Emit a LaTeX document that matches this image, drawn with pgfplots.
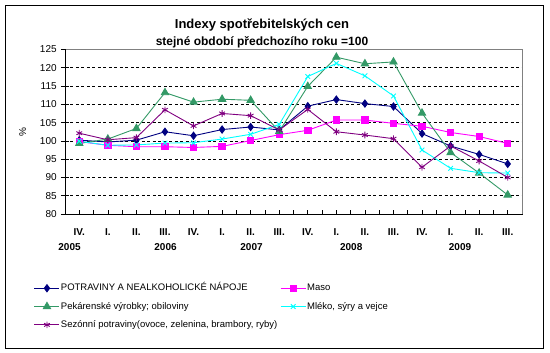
\documentclass[border=0pt]{standalone}
\usepackage{fontspec}
\setmainfont{Liberation Sans}
\usepackage{pgfplots}
\pgfplotsset{compat=1.18}
\definecolor{cnavy}{HTML}{000080}
\definecolor{cmag}{HTML}{FF00FF}
\definecolor{cgreen}{HTML}{339966}
\definecolor{ccyan}{HTML}{00FFFF}
\definecolor{cpurple}{HTML}{800080}
\definecolor{cgray}{HTML}{808080}
\begin{document}
\begin{tikzpicture}[x=1pt,y=1pt]
\useasboundingbox (0,0) rectangle (550,353);
\draw[black, line width=1pt] (5.5,4.5) rectangle (543.5,347.5);
\node[font=\fontsize{13}{15}\selectfont\bfseries] at (262,327.5) {Indexy spotřebitelských cen};
\node[font=\fontsize{12}{14}\selectfont\bfseries] at (262,311.2) {stejné období předchozího roku =100};
\node[rotate=90, font=\fontsize{10}{12}\selectfont] at (22.7,221.3) {\%};
\begin{axis}[
  at={(65pt,139pt)}, anchor=south west, scale only axis,
  width=457pt, height=164.5pt,
  xmin=-0.5, xmax=15.5, ymin=80, ymax=125,
  clip=false,
  axis line style={draw=none},
  ytick={80,85,...,125},
  ymajorgrids,
  grid style={black, dash pattern=on 3pt off 2.5pt, line width=0.6pt},
  ytick pos=left, ytick align=center,
  ytick style={black, line width=0.6pt, /pgfplots/major tick length=8pt},
  yticklabel style={font=\fontsize{10}{12}\selectfont, anchor=east, inner sep=0pt, xshift=-6pt},
  /pgf/number format/assume math mode=true,
  xtick={0.5,1.5,...,14.5}, xticklabels={},
  xtick pos=left, xtick align=inside,
  xtick style={black, line width=0.6pt, /pgfplots/major tick length=4pt},
  extra x ticks={0,1,...,15},
  extra x tick labels={IV.,I.,II.,III.,IV.,I.,II.,III.,IV.,I.,II.,III.,IV.,I.,II.,III.},
  extra x tick style={/pgfplots/major tick length=0pt,
     xticklabel style={font=\fontsize{10}{12}\selectfont\bfseries, anchor=base, yshift=-22pt}},
  legend columns=2,
  legend cell align=left,
  legend style={draw=none, fill=none, at={(axis description cs:-0.0678,-0.418)}, anchor=north west,
     inner sep=0pt, outer sep=0pt, font=\fontsize{9.5}{11}\selectfont, row sep=7.3pt,
     nodes={inner sep=1pt, text height=7pt, text depth=2pt},
     /tikz/every even column/.append style={column sep=2pt}},
  legend image code/.code={\draw[mark repeat=2, mark phase=2] plot coordinates {(0pt,0pt) (12.5pt,0pt) (25pt,0pt)};},
  every axis plot/.append style={line width=0.9pt},
]
\draw[cgray, line width=0.8pt] (rel axis cs:0,1) -- (rel axis cs:1,1) -- (rel axis cs:1,0);
\draw[black, line width=0.8pt] (rel axis cs:0,1) -- (rel axis cs:0,0) -- (rel axis cs:1,0);
\addplot[cnavy, mark=diamond*, mark size=3.6pt, mark options={solid, fill=cnavy}] coordinates {
(0,100.2) (1,99.7) (2,100.2) (3,102.5) (4,101.4) (5,103.1) (6,103.8) (7,103.0)
(8,109.5) (9,111.3) (10,110.2) (11,109.4) (12,102.0) (13,98.6) (14,96.3) (15,93.7)};
\addlegendentry{POTRAVINY A NEALKOHOLICKÉ NÁPOJE}
\addplot[cmag, mark=square*, mark size=3.2pt, mark options={solid, fill=cmag}] coordinates {
(0,99.8) (1,98.8) (2,98.4) (3,98.4) (4,98.2) (5,98.5) (6,100.1) (7,101.7)
(8,102.9) (9,105.7) (10,105.7) (11,104.8) (12,104.0) (13,102.3) (14,101.2) (15,99.3)};
\addlegendentry{Maso}
\addplot[cgreen, mark=triangle*, mark size=4.2pt, mark options={solid, fill=cgreen}] coordinates {
(0,99.3) (1,100.5) (2,103.4) (3,113.2) (4,110.6) (5,111.4) (6,111.1) (7,102.6)
(8,114.9) (9,122.9) (10,121.1) (11,121.6) (12,107.6) (13,96.8) (14,91.2) (15,85.2)};
\addlegendentry{Pekárenské výrobky; obiloviny}
\addplot[ccyan, mark=x, mark size=3.3pt, mark options={solid}] coordinates {
(0,99.9) (1,98.8) (2,98.9) (3,99.4) (4,99.5) (5,100.5) (6,101.8) (7,104.5)
(8,117.6) (9,121.2) (10,117.8) (11,112.3) (12,97.5) (13,92.5) (14,91.3) (15,91.2)};
\addlegendentry{Mléko, sýry a vejce}
\addplot[cpurple, mark=asterisk, mark size=3.3pt, mark options={solid}] coordinates {
(0,102.1) (1,100.3) (2,100.9) (3,108.5) (4,104.1) (5,107.5) (6,106.9) (7,103.0)
(8,108.6) (9,102.5) (10,101.6) (11,100.6) (12,92.8) (13,98.6) (14,94.5) (15,90.0)};
\addlegendentry{Sezónní potraviny(ovoce, zelenina, brambory, ryby)}
\node[font=\fontsize{10}{12}\selectfont\bfseries, anchor=base] at (axis cs:-0.342,80) [yshift=-37pt] {2005};
\node[font=\fontsize{10}{12}\selectfont\bfseries, anchor=base] at (axis cs:3.02,80) [yshift=-37pt] {2006};
\node[font=\fontsize{10}{12}\selectfont\bfseries, anchor=base] at (axis cs:6.03,80) [yshift=-37pt] {2007};
\node[font=\fontsize{10}{12}\selectfont\bfseries, anchor=base] at (axis cs:9.52,80) [yshift=-37pt] {2008};
\node[font=\fontsize{10}{12}\selectfont\bfseries, anchor=base] at (axis cs:13.33,80) [yshift=-37pt] {2009};
\end{axis}
\end{tikzpicture}
\end{document}
